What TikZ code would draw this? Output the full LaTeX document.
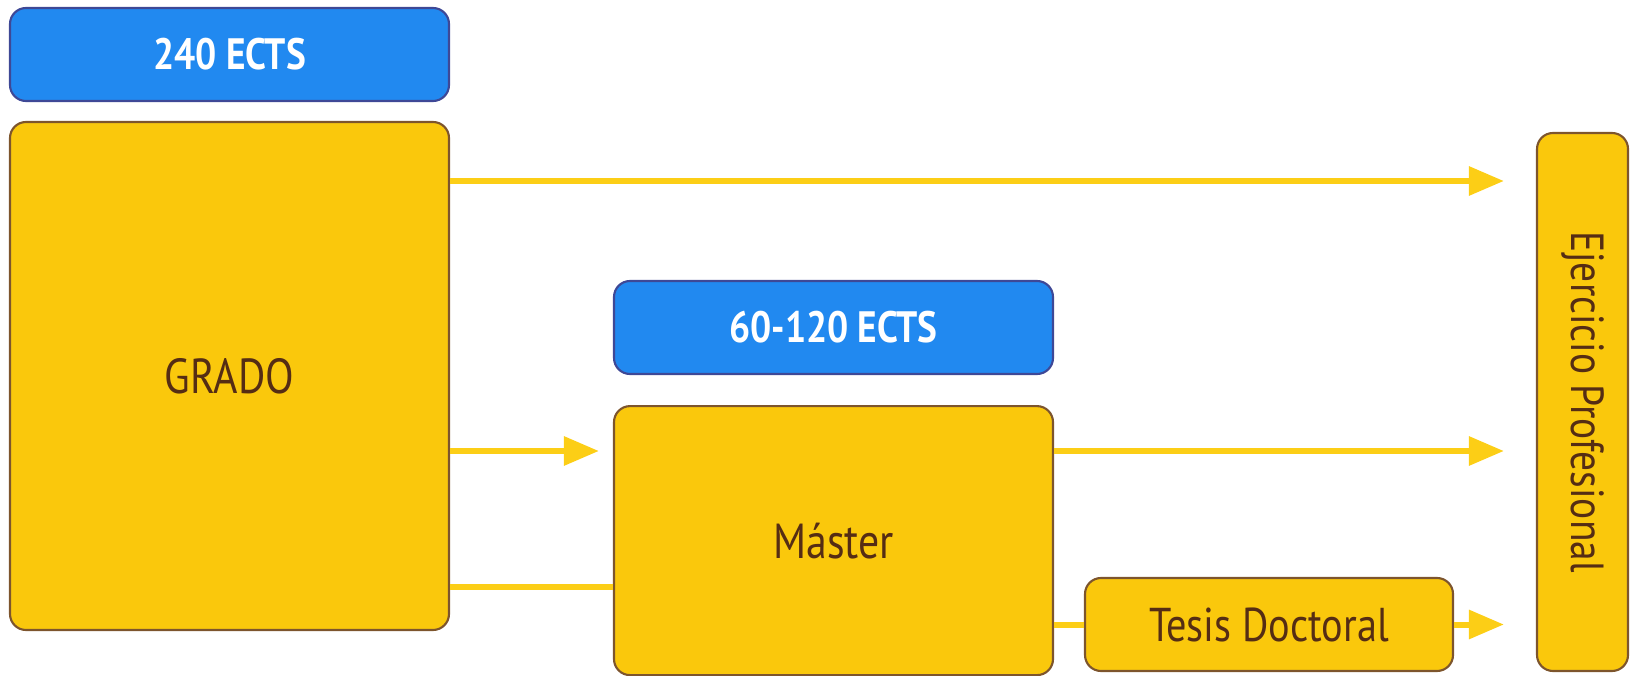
\documentclass[tikz,border=0pt]{standalone}
\usepackage{fontspec}
\setmainfont[FakeStretch=0.85]{PT Sans}
\usepackage{xcolor}
\usepackage{tikz}
\usetikzlibrary{positioning,arrows.meta,calc}
\definecolor{bluefill}{RGB}{33,137,240}
\definecolor{blueline}{RGB}{62,72,150}
\definecolor{yellowfill}{RGB}{250,200,12}
\definecolor{yellowline}{RGB}{125,85,45}
\definecolor{flowcol}{RGB}{252,206,22}
\definecolor{textbrown}{RGB}{85,45,20}
\tikzset{
  ects/.style={draw=blueline, fill=bluefill, line width=0.6pt, rounded corners=0.16cm,
    minimum width=4.39cm, minimum height=0.93cm, text=white, font=\bfseries\fontsize{12.5}{14}\selectfont},
  block/.style={draw=yellowline, fill=yellowfill, line width=0.6pt, rounded corners=0.16cm,
    text=textbrown, font=\fontsize{14}{16}\selectfont},
  flow/.style={draw=flowcol, line width=0.06cm},
  tip/.style={-{Triangle[length=0.35cm,width=0.28cm]}}
}
\begin{document}
\begin{tikzpicture}
\useasboundingbox (0,0) rectangle (16.31,6.75);
% nodes
 \node[ects] (ects1) at (2.295,6.205) {240 ECTS};
 \node[block, minimum width=4.39cm, minimum height=5.08cm] (grado) at (2.295,2.99) {GRADO};%
 \node[ects] (ects2) at (8.335,3.475) {60-120 ECTS};
 \node[block, minimum width=4.39cm, minimum height=2.69cm, below=0.3cm of ects2] (master) {Máster};%
 \node[block, minimum width=3.68cm, minimum height=0.93cm, font=\fontsize{13.5}{15}\selectfont] (tesis) at (12.69,0.505) {Tesis Doctoral};%
 \node[block, rotate=-90, minimum width=5.38cm, minimum height=0.91cm, font=\fontsize{13.2}{15}\selectfont] (ejer) at (15.825,2.73) {Ejercicio Profesional};%
 \coordinate (top) at (0,4.94);
 \coordinate (mid) at (0,2.24);
 \coordinate (low) at (0,0.88);

% edges
 \draw[flow, tip, shorten >=0.32cm] (top -| grado.east) -- (top -| ejer.south);
 \draw[flow, tip, shorten >=0.14cm] (mid -| grado.east) -- (mid -| master.west);
 \draw[flow] (low -| grado.east) -- (low -| master.west);
 \draw[flow, tip, shorten >=0.32cm] (mid -| master.east) -- (mid -| ejer.south);
 \draw[flow] (tesis -| master.east) -- (tesis.west);
 \draw[flow, tip, shorten >=0.32cm] (tesis.east) -- (tesis -| ejer.south);
\end{tikzpicture}
\end{document}
